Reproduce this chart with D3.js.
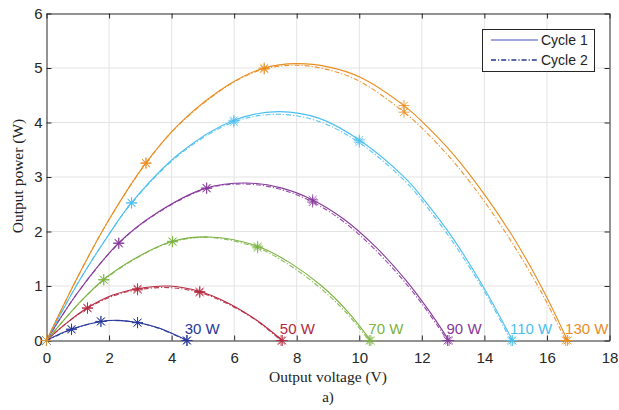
<!DOCTYPE html>
<html><head><meta charset="utf-8">
<script src="https://cdn.jsdelivr.net/npm/d3@7"></script>
<style>body{margin:0;background:#fff;} svg{display:block;}</style>
</head><body>
<svg id="c" width="619" height="410"></svg>
<script>
// ---------- data ----------
const levels = ["30 W", "50 W", "70 W", "90 W", "110 W", "130 W"];
const xTicks = [0, 2, 4, 6, 8, 10, 12, 14, 16, 18];
const yTicks = [0, 1, 2, 3, 4, 5, 6];
const legendLabels = ["Cycle 1", "Cycle 2"];

// curves: [voltage V, power W]
const cycle1_30 = [[0,0],[0.8,0.21],[1.74,0.35],[2.3,0.37],[2.91,0.33],[3.6,0.23],[4.5,0]];
const cycle2_30 = [[0,0],[0.8,0.2],[1.74,0.35],[2.3,0.365],[2.91,0.325],[3.6,0.22],[4.48,0]];
const cycle1_50 = [[0,0],[0.6,0.3],[1.31,0.6],[2.1,0.83],[2.91,0.95],[3.9,1.0],[4.9,0.9],[5.8,0.69],[6.7,0.38],[7.54,0]];
const cycle2_50 = [[0,0],[0.6,0.3],[1.31,0.59],[2.1,0.81],[2.91,0.93],[3.9,0.97],[4.9,0.88],[5.8,0.67],[6.7,0.37],[7.5,0]];
const cycle1_70 = [[0,0],[1,0.66],[1.83,1.12],[3,1.56],[4.03,1.82],[5.2,1.9],[6.75,1.73],[7.8,1.42],[8.8,1.0],[9.6,0.55],[10.37,0]];
const cycle2_70 = [[0,0],[1,0.66],[1.83,1.11],[3,1.55],[4.03,1.81],[5.2,1.89],[6.75,1.7],[7.8,1.37],[8.8,0.94],[9.6,0.5],[10.32,0]];
const cycle1_90 = [[0,0],[1,0.88],[2.31,1.79],[3.5,2.33],[5.12,2.8],[6.4,2.89],[7.5,2.8],[8.51,2.58],[9.5,2.23],[10.5,1.73],[11.5,1.1],[12.2,0.57],[12.87,0]];
const cycle2_90 = [[0,0],[1,0.88],[2.31,1.78],[3.5,2.32],[5.12,2.79],[6.4,2.87],[7.5,2.77],[8.51,2.54],[9.5,2.18],[10.5,1.67],[11.5,1.04],[12.2,0.52],[12.82,0]];
const cycle1_110 = [[0,0],[1,1.05],[2,1.95],[2.72,2.53],[4.27,3.44],[5.99,4.04],[7.4,4.2],[8.7,4.08],[10.0,3.68],[11.47,2.98],[12.0,2.63],[13.0,1.87],[14.0,0.95],[14.9,0]];
const cycle2_110 = [[0,0],[1,1.05],[2,1.95],[2.72,2.52],[4.27,3.42],[5.99,4.01],[7.4,4.15],[8.7,4.02],[10.0,3.63],[11.47,2.92],[12.0,2.57],[13.0,1.8],[14.0,0.9],[14.85,0]];
const cycle1_130 = [[0,0],[1,1.17],[2,2.22],[3.18,3.26],[4.27,3.99],[5.87,4.71],[6.96,5.0],[8.0,5.08],[9.0,5.02],[10.03,4.83],[11.43,4.31],[12.0,4.02],[13.0,3.42],[14.0,2.68],[15.0,1.82],[15.9,0.9],[16.66,0]];
const cycle2_130 = [[0,0],[1,1.17],[2,2.22],[3.18,3.25],[4.27,3.98],[5.87,4.7],[6.96,4.98],[8.0,5.05],[9.0,4.97],[10.03,4.75],[11.43,4.19],[12.0,3.9],[13.0,3.29],[14.0,2.55],[15.0,1.69],[15.9,0.8],[16.6,0]];

// measured points (asterisk markers)
const marks1_30 = [[0,0],[0.8,0.21],[1.74,0.35],[2.91,0.33],[4.5,0]];
const marks2_30 = [[0,0],[0.8,0.2],[1.74,0.35],[2.91,0.325],[4.48,0]];
const marks1_50 = [[0,0],[1.31,0.6],[2.91,0.95],[4.9,0.9],[7.54,0]];
const marks2_50 = [[0,0],[1.31,0.59],[2.91,0.93],[4.9,0.88],[7.5,0]];
const marks1_70 = [[0,0],[1.83,1.12],[4.03,1.82],[6.75,1.73],[10.37,0]];
const marks2_70 = [[0,0],[1.83,1.11],[4.03,1.81],[6.75,1.7],[10.32,0]];
const marks1_90 = [[0,0],[2.31,1.79],[5.12,2.8],[8.51,2.58],[12.87,0]];
const marks2_90 = [[0,0],[2.31,1.78],[5.12,2.79],[8.51,2.54],[12.82,0]];
const marks1_110 = [[0,0],[2.72,2.53],[5.99,4.04],[10.0,3.68],[14.9,0]];
const marks2_110 = [[0,0],[2.72,2.52],[5.99,4.01],[10.0,3.64],[14.85,0]];
const marks1_130 = [[0,0],[3.18,3.26],[6.96,5.0],[11.43,4.31],[16.66,0]];
const marks2_130 = [[0,0],[3.18,3.25],[6.96,4.98],[11.43,4.19],[16.6,0]];

const cycle1 = [cycle1_30, cycle1_50, cycle1_70, cycle1_90, cycle1_110, cycle1_130];
const cycle2 = [cycle2_30, cycle2_50, cycle2_70, cycle2_90, cycle2_110, cycle2_130];
const marks1 = [marks1_30, marks1_50, marks1_70, marks1_90, marks1_110, marks1_130];
const marks2 = [marks2_30, marks2_50, marks2_70, marks2_90, marks2_110, marks2_130];

// ---------- styles ----------
const colors = ["#27379a", "#b5283f", "#7cb342", "#86399a", "#4cbff0", "#ea8c1f"];
const axisColor = "#262626";
const sans = "'Liberation Sans', Arial, sans-serif";
const serif = "'Liberation Serif', 'Times New Roman', serif";
const dashDot = "5,2,1.2,2";

const svg = d3.select("#c");
const L = 46.5, R = 609.5, T = 13.5, B = 340.5;
const x = d3.scaleLinear().domain([0, 18]).range([L, R]);
const y = d3.scaleLinear().domain([0, 6]).range([B, T]);

// grid
const grid = svg.append("g");
grid.selectAll("line.gx").data(xTicks.slice(1, -1)).join("line")
  .attr("x1", d => x(d)).attr("x2", d => x(d)).attr("y1", T).attr("y2", B)
  .attr("stroke", "#e3e3e3").attr("stroke-width", 1);
grid.selectAll("line.gy").data(yTicks.slice(1, -1)).join("line")
  .attr("y1", d => y(d)).attr("y2", d => y(d)).attr("x1", L).attr("x2", R)
  .attr("stroke", "#e3e3e3").attr("stroke-width", 1);

// axes
const fmt = d3.format("d");
function styleAxis(g) {
  g.select(".domain").attr("stroke", axisColor);
  g.selectAll(".tick line").attr("stroke", axisColor);
  g.selectAll(".tick text").attr("fill", axisColor).attr("font-family", sans).attr("font-size", 15);
}
svg.append("g").attr("transform", `translate(0,${B})`)
  .call(d3.axisBottom(x).tickValues(xTicks).tickFormat(fmt).tickSizeInner(-5).tickSizeOuter(0).tickPadding(11.5))
  .call(styleAxis);
svg.append("g").attr("transform", `translate(${L},0)`)
  .call(d3.axisLeft(y).tickValues(yTicks).tickFormat(fmt).tickSizeInner(-5).tickSizeOuter(0).tickPadding(4))
  .call(styleAxis);
svg.append("g").attr("transform", `translate(0,${T})`)
  .call(d3.axisTop(x).tickValues(xTicks).tickSizeInner(-5).tickSizeOuter(0).tickFormat(""))
  .call(styleAxis);
svg.append("g").attr("transform", `translate(${R},0)`)
  .call(d3.axisRight(y).tickValues(yTicks).tickSizeInner(-5).tickSizeOuter(0).tickFormat(""))
  .call(styleAxis);

// curves
const line = d3.line().x(d => x(d[0])).y(d => y(d[1])).curve(d3.curveCatmullRom.alpha(0.5));
const curves = svg.append("g").attr("fill", "none");
cycle1.forEach((pts, i) => {
  curves.append("path").attr("d", line(pts)).attr("stroke", colors[i]).attr("stroke-width", 1.1);
});
cycle2.forEach((pts, i) => {
  curves.append("path").attr("d", line(pts)).attr("stroke", colors[i]).attr("stroke-width", 1.1)
    .attr("stroke-dasharray", dashDot).attr("opacity", 0.9);
});

// asterisk markers
const r = 5.5;
function star(px, py) {
  const a = r * Math.SQRT1_2;
  return `M${px - r},${py}L${px + r},${py}M${px},${py - r}L${px},${py + r}` +
         `M${px - a},${py - a}L${px + a},${py + a}M${px - a},${py + a}L${px + a},${py - a}`;
}
const mk = svg.append("g").attr("fill", "none");
[marks1, marks2].forEach(set => {
  set.forEach((pts, i) => {
    mk.selectAll(null).data(pts).join("path")
      .attr("d", d => star(x(d[0]), y(d[1])))
      .attr("stroke", colors[i]).attr("stroke-width", 1).attr("opacity", 0.85);
  });
});

// curve labels
svg.append("g").selectAll("text").data(levels).join("text")
  .attr("x", (d, i) => x(cycle1[i][cycle1[i].length - 1][0]) - 2.5)
  .attr("y", B - 7)
  .attr("fill", (d, i) => colors[i])
  .attr("font-family", sans).attr("font-size", 15)
  .text(d => d);

// axis titles
svg.append("text").attr("x", (L + R) / 2).attr("y", 382).attr("text-anchor", "middle")
  .attr("font-family", serif).attr("font-size", 15.5).attr("fill", "#222")
  .text("Output voltage (V)");
svg.append("text").attr("transform", `translate(23,176) rotate(-90)`).attr("text-anchor", "middle")
  .attr("font-family", serif).attr("font-size", 15.5).attr("fill", "#222")
  .text("Output power (W)");
svg.append("text").attr("x", (L + R) / 2).attr("y", 402).attr("text-anchor", "middle")
  .attr("font-family", serif).attr("font-size", 15).attr("fill", "#222")
  .text("a)");

// legend
const lg = svg.append("g");
lg.append("rect").attr("x", 482.5).attr("y", 29.5).attr("width", 112).attr("height", 42)
  .attr("fill", "#fff").attr("stroke", axisColor).attr("stroke-width", 1);
const legendColors = ["#7f88d6", "#25368f"];
legendLabels.forEach((lab, i) => {
  const yy = 40 + i * 20;
  lg.append("line").attr("x1", 491).attr("x2", 538).attr("y1", yy).attr("y2", yy)
    .attr("stroke", legendColors[i]).attr("stroke-width", 1.3)
    .attr("stroke-dasharray", i === 1 ? dashDot : null);
  lg.append("text").attr("x", 541).attr("y", yy).attr("dy", "0.35em")
    .attr("font-family", sans).attr("font-size", 14).attr("fill", "#222").text(lab);
});
</script>
</body></html>
